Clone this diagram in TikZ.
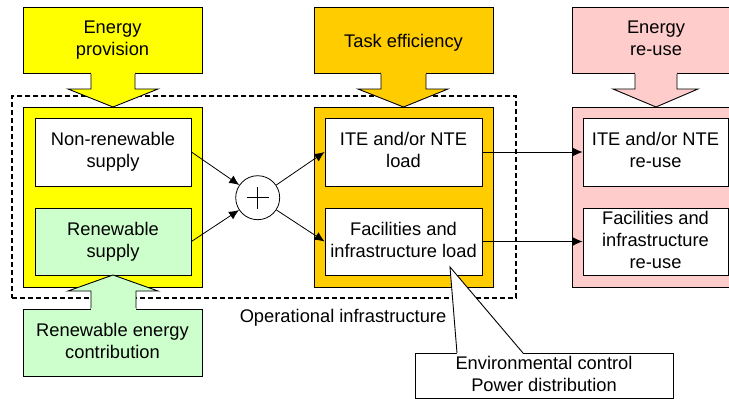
\documentclass[tikz,border=0pt]{standalone}
\usepackage{fontspec}
\setmainfont{Liberation Sans}
\usetikzlibrary{arrows.meta}
\definecolor{cyel}{HTML}{FFFF00}
\definecolor{corg}{HTML}{FFCC00}
\definecolor{cpnk}{HTML}{FFCCCC}
\definecolor{cgrn}{HTML}{CCFFCC}
\newcommand\dfs{\fontsize{18.3pt}{22pt}\selectfont}
\begin{document}
\begin{tikzpicture}[x=1pt,y=-1pt,
  bord/.style={draw=black, line width=0.9pt},
  box/.style={bord, inner sep=0pt, align=center, font=\dfs,
    execute at begin node={\rule{0pt}{19pt}},
    execute at end node={\rule[-4pt]{0pt}{4pt}}},
  barrow/.style={draw=black, line width=0.9pt, line join=miter, fill=#1},
  conn/.style={draw=black, line width=0.8pt, -{Latex[length=10pt,width=9pt]}},
  frame/.style={draw=black, line width=1.2pt, dash pattern=on 5pt off 3pt}]
\useasboundingbox (0,0) rectangle (729,399);
\clip (0,0) rectangle (729,399);

% operational infrastructure frame
\node[frame, minimum width=504pt, minimum height=202pt, inner sep=0pt] (opframe) at (264,197) {};
\node[font=\dfs, inner sep=0pt] (oplab) at (343,318) {Operational infrastructure};

% big blocks
\node[box, fill=cyel, minimum width=179pt, minimum height=180pt] (yb) at (112.5,197) {};
\node[box, fill=corg, minimum width=179pt, minimum height=180pt] (ob) at (403.5,197) {};
\node[box, fill=cpnk, minimum width=168pt, minimum height=180pt] (pb) at (656,197) {};

% inner boxes
\node[box, fill=white, minimum width=156pt, minimum height=68pt] (nr) at (113,152) {Non-renewable\\supply};
\node[box, fill=cgrn, minimum width=156pt, minimum height=67pt] (rs) at (113,241.5) {Renewable\\supply};
\node[box, fill=white, minimum width=157pt, minimum height=68pt] (ite) at (403.5,152) {ITE and/or NTE\\load};
\node[box, fill=white, minimum width=157pt, minimum height=67pt] (fil) at (403.5,241.5) {Facilities and\\infrastructure load};
\node[box, fill=white, minimum width=145pt, minimum height=68pt] (iter) at (655.5,152) {ITE and/or NTE\\re-use};
\node[box, fill=white, minimum width=145pt, minimum height=67pt] (filr) at (655.5,241.5) {Facilities and\\infrastructure\\re-use};

% top boxes
\node[box, fill=cyel, minimum width=179pt, minimum height=66pt] (ep) at (112.5,40) {Energy\\provision};
\node[box, fill=corg, minimum width=179pt, minimum height=66pt] (te) at (403.5,40) {Task efficiency};
\node[box, fill=cpnk, minimum width=168pt, minimum height=66pt] (er) at (656,40) {Energy\\re-use};

% top block arrows
\filldraw[barrow=cyel] (91,73) -- (91,89) -- (68,89) -- (113,107) -- (158,89) -- (135,89) -- (135,73) -- cycle;
\fill[cyel] (91.45,70) rectangle (134.55,74);
\filldraw[barrow=corg] (381,73) -- (381,89) -- (358,89) -- (403.5,107) -- (448,89) -- (426,89) -- (426,73) -- cycle;
\fill[corg] (381.45,70) rectangle (425.55,74);
\filldraw[barrow=cpnk] (635,73) -- (635,89) -- (613,89) -- (656,107) -- (698,89) -- (677,89) -- (677,73) -- cycle;
\fill[cpnk] (635.45,70) rectangle (676.55,74);

% renewable energy contribution
\node[box, fill=cgrn, minimum width=179pt, minimum height=67pt] (rec) at (112.5,342.5) {Renewable energy\\contribution};
\filldraw[barrow=cgrn] (91,309) -- (91,291) -- (68,291) -- (113,275) -- (158,291) -- (136,291) -- (136,309) -- cycle;
\fill[cgrn] (91.45,308) rectangle (135.55,312);

% sum
\node[draw=black, line width=0.8pt, circle, fill=white, minimum size=44pt, inner sep=0pt] (plus) at (257.7,197.7) {};
\draw[line width=0.8pt] ([xshift=-11pt]plus.center) -- ([xshift=11pt]plus.center);
\draw[line width=0.8pt] ([yshift=-11pt]plus.center) -- ([yshift=11pt]plus.center);

% connectors
\draw[conn] (nr.east) -- (plus);
\draw[conn] (rs.east) -- (plus);
\draw[conn] (plus) -- (ite.west);
\draw[conn] (plus) -- (fil.west);
\draw[conn] (ite.east) -- (iter.west);
\draw[conn] (fil.east) -- (filr.west);

% callout
\node[box, fill=white, minimum width=258pt, minimum height=45pt] (cal) at (544,375.5) {Environmental control\\Power distribution};
\coordinate (ctip) at (450,267);
\fill[white] (ctip) -- (457,353.8) -- (523,353.8) -- cycle;
\draw[draw=black, line width=0.9pt] (457,353) -- (ctip) -- (523,353);
\end{tikzpicture}
\end{document}
